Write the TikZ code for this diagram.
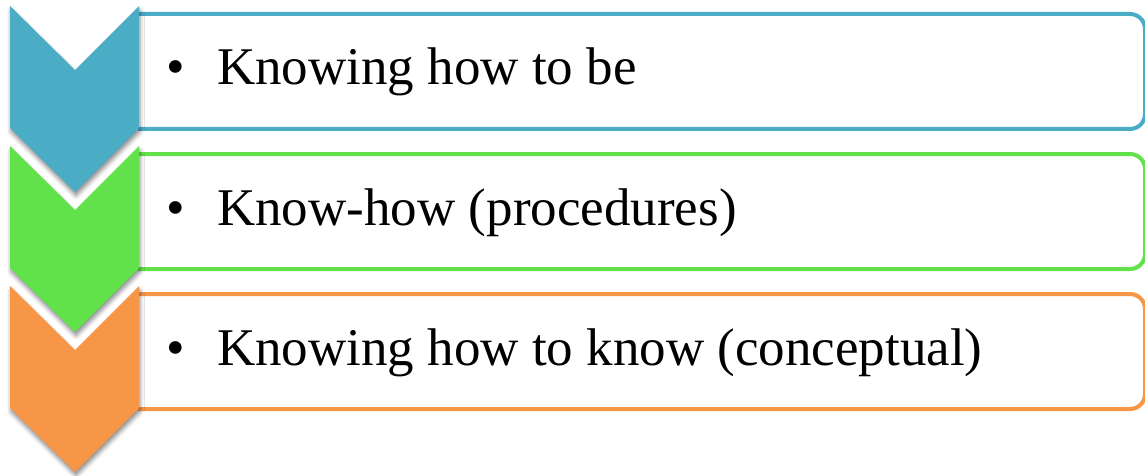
\documentclass[tikz,border=0pt]{standalone}
\usepackage{fontspec}
\setmainfont{Liberation Serif}
\usetikzlibrary{shadows.blur}
\definecolor{cblue}{RGB}{75,172,198}
\definecolor{cgreen}{RGB}{98,226,74}
\definecolor{corange}{RGB}{247,150,70}
\tikzset{
  box/.style={draw=#1, line width=4pt, rounded corners=15pt, fill=white,
    minimum width=1043pt, minimum height=115pt, inner sep=0pt, anchor=north west},
  chev/.style={fill=#1, draw=none, blur shadow={shadow xshift=1pt, shadow yshift=-4pt,
    shadow blur radius=4pt, shadow opacity=45}},
  itemtext/.style={font=\fontsize{53pt}{60pt}\selectfont, inner sep=0pt, anchor=base west},
  bul/.style={font=\fontsize{53pt}{60pt}\selectfont, inner sep=0pt, anchor=base}
}
\begin{document}
\begin{tikzpicture}[x=1pt,y=-1pt]
\useasboundingbox (0,0) rectangle (1145,476);
% boxes (left edge hidden behind the chevrons)
\begin{scope}
\clip (138,0) rectangle (1145,476);
\node[box=cblue]   (b1) at (100,12) {};
\node[box=cgreen]  (b2) at (100,152) {};
\node[box=corange] (b3) at (100,292) {};
\end{scope}
% chevrons
\foreach \c/\t in {cblue/6, cgreen/146, corange/286}{
  \fill[chev=\c] (10,\t) -- (75,\t+64) -- (139,\t) -- (139,\t+122) -- (75,\t+186) -- (10,\t+122) -- cycle;
}
% texts
\node[bul] (u1) at (176,85) {•};
\node[itemtext] (t1) at (217,85) {Knowing how to be};
\node[bul] (u2) at (176,225) {•};
\node[itemtext] (t2) at (217,225) {Know-how (procedures)};
\node[bul] (u3) at (176,365) {•};
\node[itemtext] (t3) at (217,365) {Knowing how to know (conceptual)};
\end{tikzpicture}
\end{document}
